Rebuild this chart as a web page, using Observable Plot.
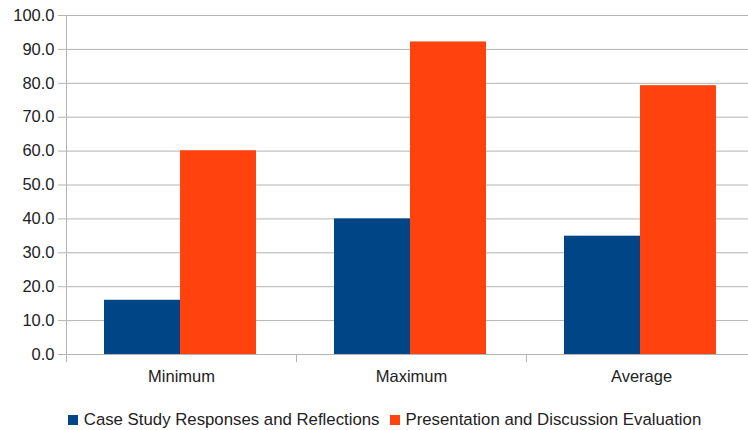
<!DOCTYPE html>
<html>
<head>
<meta charset="utf-8">
<script src="https://cdn.jsdelivr.net/npm/d3@7"></script>
<script src="https://cdn.jsdelivr.net/npm/@observablehq/plot@0.6"></script>
<style>
  html, body { margin: 0; padding: 0; background: #fff; }
  #chart { width: 748px; height: 430px; overflow: hidden; font-family: "Liberation Sans", Arial, sans-serif; }
  .legend { display: flex; justify-content: center; align-items: center; height: 30px; padding-top: 5px; font-size: 16.8px; color: #222; margin-left: 21px; }
  .legend .item { display: flex; align-items: center; margin: 0 5px; }
  .legend .sw { width: 10px; height: 10px; margin-right: 6px; display: inline-block; }
</style>
</head>
<body>
<div id="chart"></div>
<script>
const categories = ["Minimum", "Maximum", "Average"];
const seriesNames = ["Case Study Responses and Reflections", "Presentation and Discussion Evaluation"];
const caseStudy = [16.0, 40.0, 34.9];
const presentation = [60.1, 92.2, 79.3];
const yTicks = [0, 10, 20, 30, 40, 50, 60, 70, 80, 90, 100];
const colors = ["#004586", "#ff420e"];

const rowsA = categories.map((c, i) => ({category: c, value: caseStudy[i]}));
const rowsB = categories.map((c, i) => ({category: c, value: presentation[i]}));

const grid = "#b3b3b3";
const plot = Plot.plot({
  width: 748,
  height: 400,
  marginLeft: 66,
  marginRight: 0,
  marginTop: 15,
  marginBottom: 46,
  style: {fontFamily: "Liberation Sans, Arial, sans-serif", fontSize: "16.5px", background: "#fff"},
  x: {type: "band", domain: categories, range: [66, 756], padding: 0},
  y: {domain: [0, d3.max(yTicks)]},
  marks: [
    Plot.gridY(yTicks, {stroke: grid, strokeOpacity: 1, strokeWidth: 1}),
    Plot.barY(rowsA, {x: "category", y: "value", fill: colors[0], insetLeft: 38, insetRight: 116}),
    Plot.barY(rowsB, {x: "category", y: "value", fill: colors[1], insetLeft: 114, insetRight: 40}),
    Plot.ruleX([categories[0]], {x: d => d, dx: -115, y1: 0, y2: d3.max(yTicks), stroke: grid}),
    Plot.axisY(yTicks, {tickSize: 8, tickPadding: 4, stroke: grid, fill: "#222", tickFormat: d3.format(".1f"), label: null, fontSize: 16.5}),
    Plot.axisX({tickSize: 8, tickFormat: () => "", dx: -115, stroke: grid, label: null}),
    Plot.axisX({tickSize: 0, tickPadding: 16, fill: "#222", label: null, fontSize: 16.5})
  ]
});
const chart = document.getElementById("chart");
chart.appendChild(plot);
const legend = document.createElement("div");
legend.className = "legend";
seriesNames.forEach((name, i) => {
  const item = document.createElement("span");
  item.className = "item";
  const sw = document.createElement("span");
  sw.className = "sw";
  sw.style.background = colors[i];
  item.appendChild(sw);
  item.appendChild(document.createTextNode(name));
  legend.appendChild(item);
});
chart.appendChild(legend);
</script>
</body>
</html>
